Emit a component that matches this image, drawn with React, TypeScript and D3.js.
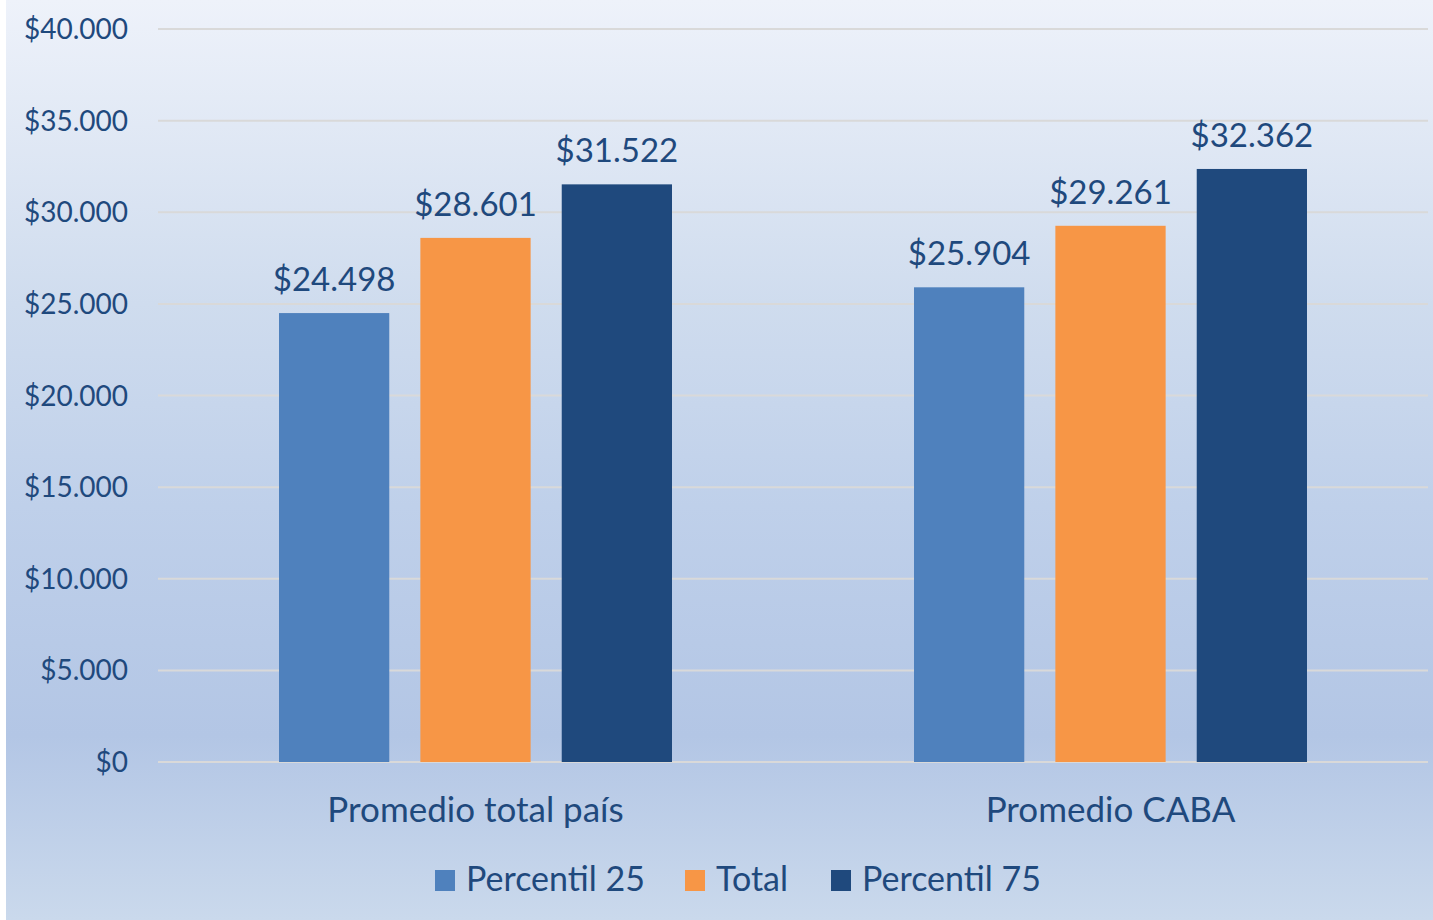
import React from "react";
import * as d3 from "d3";

const categories = ["Promedio total país", "Promedio CABA"];
const seriesNames = ["Percentil 25", "Total", "Percentil 75"];
const seriesColors = ["#4f81bd", "#f79646", "#1f497d"];
const percentil25 = [24498, 25904];
const total = [28601, 29261];
const percentil75 = [31522, 32362];
const yTicks = [0, 5000, 10000, 15000, 20000, 25000, 30000, 35000, 40000];

const W = 1433;
const H = 920;
const FONT = "Lato, 'Open Sans', sans-serif";
const TEXT = "#1f497d";

const fmt = (v: number) => "$" + d3.format(",")(v).replace(/,/g, ".");

export default function App() {
  const series = [percentil25, total, percentil75];
  const margin = { left: 158, right: 5, top: 29, bottom: 158 };
  const x0 = d3
    .scaleBand<string>()
    .domain(categories)
    .range([margin.left, W - margin.right])
    .padding(0);
  const y = d3.scaleLinear().domain([0, 40000]).range([H - margin.bottom, margin.top]);
  const groupW = 393;
  const x1 = d3
    .scaleBand<string>()
    .domain(seriesNames)
    .range([0, groupW])
    .paddingInner(0.22)
    .paddingOuter(0);

  const legendX = [435, 685, 831];

  return (
    <div style={{ position: "absolute", left: 0, top: 0, width: W, height: H }}>
      <svg width={W} height={H} style={{ display: "block" }}>
        <defs>
          <linearGradient id="bg" x1="0" y1="0" x2="0" y2="1">
            <stop offset="0" stopColor="#eef2fa" />
            <stop offset="0.33" stopColor="#cfdcee" />
            <stop offset="0.55" stopColor="#bfd0ea" />
            <stop offset="0.8" stopColor="#b3c6e5" />
            <stop offset="1" stopColor="#cad9ec" />
          </linearGradient>
        </defs>
        <rect x={0} y={0} width={W} height={H} fill="#ffffff" />
        <rect x={6} y={0} width={W - 6} height={H} fill="url(#bg)" />
        {yTicks.map((t) => (
          <g key={t}>
            <line
              x1={margin.left}
              x2={W - margin.right}
              y1={y(t)}
              y2={y(t)}
              stroke="#d9d9d9"
              strokeWidth={2}
            />
            <text
              x={128}
              y={y(t) + 10}
              textAnchor="end"
              fontFamily={FONT}
              fontSize={28}
              fill={TEXT}
            >
              {fmt(t)}
            </text>
          </g>
        ))}
        {categories.map((c, ci) => {
          const gx = (x0(c) as number) + (x0.bandwidth() - groupW) / 2;
          return (
            <g key={c}>
              {seriesNames.map((s, si) => {
                const v = series[si][ci];
                const bx = gx + (x1(s) as number);
                return (
                  <g key={s}>
                    <rect
                      x={bx}
                      y={y(v)}
                      width={x1.bandwidth()}
                      height={y(0) - y(v)}
                      fill={seriesColors[si]}
                    />
                    <text
                      x={bx + x1.bandwidth() / 2}
                      y={y(v) - 22}
                      textAnchor="middle"
                      fontFamily={FONT}
                      fontSize={33}
                      fill={TEXT}
                    >
                      {fmt(v)}
                    </text>
                  </g>
                );
              })}
              <text
                x={(x0(c) as number) + x0.bandwidth() / 2}
                y={822}
                textAnchor="middle"
                fontFamily={FONT}
                fontSize={35}
                fill={TEXT}
              >
                {c}
              </text>
            </g>
          );
        })}
        {seriesNames.map((s, si) => (
          <g key={s}>
            <rect x={legendX[si]} y={870} width={20} height={21} fill={seriesColors[si]} />
            <text
              x={legendX[si] + 31}
              y={891}
              fontFamily={FONT}
              fontSize={34}
              fill={TEXT}
            >
              {s}
            </text>
          </g>
        ))}
      </svg>
    </div>
  );
}
